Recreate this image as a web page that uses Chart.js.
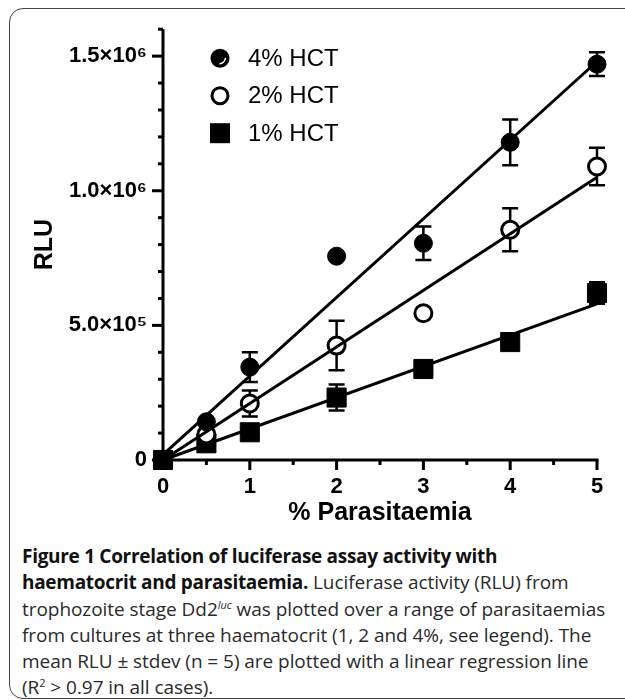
<!DOCTYPE html>
<html>
<head>
<meta charset="utf-8">
<script src="https://cdn.jsdelivr.net/npm/chart.js@4"></script>
<style>
  body { margin: 0; width: 625px; height: 700px; overflow: hidden; background: #fff; position: relative; }
  #frame { position: absolute; left: 9px; top: 8px; width: 700px; height: 691px; box-sizing: border-box;
           border: 1.5px solid #444; border-radius: 14px; }
  #wrap { position: absolute; left: 0; top: 0; }
  #caption { position: absolute; left: 22px; top: 543px; width: 600px; font-family: "Open Sans", sans-serif;
             font-size: 19px; line-height: 26.3px; color: #2a2a2a; white-space: nowrap; letter-spacing: -0.05px; }
  #caption b { font-weight: 700; color: #111; letter-spacing: -0.3px; }
  #caption sup { font-size: 11px; line-height: 0; }
</style>
</head>
<body>
<div id="frame"></div>
<div id="wrap"><canvas id="rluChart" width="625" height="540"></canvas></div>
<div id="caption">
<b>Figure 1 Correlation of luciferase assay activity with</b><br>
<b>haematocrit and parasitaemia.</b> Luciferase activity (RLU) from<br>
trophozoite stage Dd2<sup><i>luc</i></sup> was plotted over a range of parasitaemias<br>
from cultures at three haematocrit (1, 2 and 4%, see legend). The<br>
mean RLU &plusmn; stdev (n = 5) are plotted with a linear regression line<br>
(R<sup>2</sup> &gt; 0.97 in all cases).
</div>
<script>
// values
const parasitaemia = [0, 0.5, 1, 2, 3, 4, 5];
const hct4 = [0, 142000, 345000, 757000, 805000, 1180000, 1470000];
const hct4Err = [0, 0, 55000, 0, 62000, 85000, 44000];
const hct2 = [0, 95000, 210000, 425000, 545000, 855000, 1090000];
const hct2Err = [0, 0, 48000, 92000, 0, 80000, 70000];
const hct1 = [0, 62000, 103000, 232000, 338000, 438000, 620000];
const hct1Err = [0, 0, 0, 48000, 0, 0, 40000];

// regression line endpoints
const fitX = [0, 5];
const fit4 = [20000, 1480000];
const fit2 = [0, 1050000];
const fit1 = [0, 580000];

const seriesLabels = ['4% HCT', '2% HCT', '1% HCT'];
const xTickValues = [0, 1, 2, 3, 4, 5];
const yTickValues = [0, 500000, 1000000, 1500000];
const yTickLabels = ['0', '5.0\u00d710\u2075', '1.0\u00d710\u2076', '1.5\u00d710\u2076'];

const toPoints = (xs, ys) => xs.map((x, i) => ({x: x, y: ys[i]}));

const errorBars = {
    id: 'errorBars',
    beforeDatasetsDraw(chart) {
        const ctx = chart.ctx, xs = chart.scales.x, ys = chart.scales.y;
        ctx.save();
        ctx.strokeStyle = '#000';
        ctx.lineWidth = 2.5;
        chart.data.datasets.forEach(ds => {
            if (!ds.errors) return;
            ds.data.forEach((p, i) => {
                const e = ds.errors[i];
                if (!e) return;
                const px = xs.getPixelForValue(p.x);
                const top = ys.getPixelForValue(p.y + e);
                const bot = ys.getPixelForValue(p.y - e);
                ctx.beginPath();
                ctx.moveTo(px, top); ctx.lineTo(px, bot);
                ctx.moveTo(px - 8, top); ctx.lineTo(px + 8, top);
                ctx.moveTo(px - 8, bot); ctx.lineTo(px + 8, bot);
                ctx.stroke();
            });
        });
        ctx.restore();
    }
};

// axis lines plus major/minor tick marks, taken from the scales
const axesAndTicks = {
    id: 'axesAndTicks',
    afterDraw(chart) {
        const ctx = chart.ctx, xs = chart.scales.x, ys = chart.scales.y, a = chart.chartArea;
        ctx.save();
        ctx.fillStyle = '#000';
        ctx.fillRect(a.left - 1.5, a.top, 3, a.bottom - a.top + 1.5);
        ctx.fillRect(a.left - 1.5, a.bottom - 1.5, a.right - a.left + 3, 3);
        ys.ticks.forEach(t => {
            const py = ys.getPixelForValue(t.value);
            const len = yTickValues.includes(t.value) ? 11 : 5;
            ctx.fillRect(a.left - len, py - 1.5, len, 3);
        });
        xs.ticks.forEach(t => {
            const px = xs.getPixelForValue(t.value);
            const len = Number.isInteger(t.value) ? 10 : 5;
            ctx.fillRect(px - 1.5, a.bottom, 3, len);
        });
        ctx.restore();
    }
};

const innerLegend = {
    id: 'innerLegend',
    afterDraw(chart) {
        const ctx = chart.ctx, a = chart.chartArea;
        const mx = a.left + 57, tx = a.left + 85;
        ctx.save();
        ctx.font = '24px "Liberation Sans", Arial, sans-serif';
        ctx.textBaseline = 'middle';
        chart.data.datasets.filter(ds => ds.errors).forEach((ds, i) => {
            const my = a.top + 29 + i * 37.5;
            ctx.strokeStyle = '#000';
            ctx.fillStyle = '#000';
            if (ds.pointStyle === 'rect') {
                ctx.fillRect(mx - 10, my - 10, 20, 20);
            } else if (ds.pointBackgroundColor === '#fff') {
                ctx.lineWidth = 3;
                ctx.beginPath(); ctx.arc(mx, my, 8, 0, Math.PI * 2); ctx.stroke();
            } else {
                ctx.beginPath(); ctx.arc(mx, my, 9.5, 0, Math.PI * 2); ctx.fill();
                ctx.strokeStyle = '#fff'; ctx.lineWidth = 1.5;
                ctx.beginPath(); ctx.arc(mx - 1, my - 1, 6.5, 0.1, 1.5); ctx.stroke();
            }
            ctx.fillStyle = '#000';
            ctx.fillText(ds.label, tx, my + 1);
        });
        ctx.restore();
    }
};

const lineSet = (ys) => ({
    type: 'line', data: toPoints(fitX, ys), borderColor: '#000', borderWidth: 3,
    pointRadius: 0, fill: false, order: 0, clip: false
});

const data = {
    datasets: [
        {
            label: seriesLabels[0], data: toPoints(parasitaemia, hct4), errors: hct4Err,
            pointStyle: 'circle', pointRadius: 9, pointBackgroundColor: '#000',
            pointBorderColor: '#000', pointBorderWidth: 1, order: 1, clip: false
        },
        {
            label: seriesLabels[1], data: toPoints(parasitaemia, hct2), errors: hct2Err,
            pointStyle: 'circle', pointRadius: 8.5, pointBackgroundColor: '#fff',
            pointBorderColor: '#000', pointBorderWidth: 3, order: 1, clip: false
        },
        {
            label: seriesLabels[2], data: toPoints(parasitaemia, hct1), errors: hct1Err,
            pointStyle: 'rect', pointRadius: 13.5, pointBackgroundColor: '#000',
            pointBorderColor: '#000', pointBorderWidth: 1, order: 1, clip: false
        },
        lineSet(fit4),
        lineSet(fit2),
        lineSet(fit1)
    ]
};

const config = {
    type: 'scatter',
    data: data,
    options: {
        responsive: false,
        animation: false,
        layout: { padding: { left: 30, right: 28, top: 25, bottom: 12 } },
        plugins: {
            legend: { display: false },
            tooltip: { enabled: false }
        },
        scales: {
            x: {
                type: 'linear', min: 0, max: 5,
                grid: { display: true, drawOnChartArea: false, drawTicks: false },
                border: { display: false },
                ticks: {
                    stepSize: 0.5, autoSkip: false, maxRotation: 0, padding: 14, color: '#000',
                    font: { family: '"Liberation Sans", Arial, sans-serif', size: 22, weight: 'bold' },
                    callback: v => xTickValues.includes(v) ? String(v) : ''
                },
                title: {
                    display: true, text: '% Parasitaemia', color: '#000', padding: 0,
                    font: { family: '"Liberation Sans", Arial, sans-serif', size: 25, weight: 'bold' }
                },
                afterFit: s => { s.height = 68; }
            },
            y: {
                type: 'linear', min: 0, max: 1600000,
                grid: { display: true, drawOnChartArea: false, drawTicks: false },
                border: { display: false },
                ticks: {
                    stepSize: 100000, autoSkip: false, padding: 16, color: '#000',
                    font: { family: '"Liberation Sans", Arial, sans-serif', size: 22, weight: 'bold' },
                    callback: v => {
                        const k = yTickValues.indexOf(v);
                        return k >= 0 ? yTickLabels[k] : '';
                    }
                },
                title: {
                    display: true, text: 'RLU', color: '#000', padding: 0,
                    font: { family: '"Liberation Sans", Arial, sans-serif', size: 25, weight: 'bold' }
                },
                afterFit: s => { s.width = 133; }
            }
        }
    },
    plugins: [errorBars, axesAndTicks, innerLegend]
};

const rluChart = new Chart(document.getElementById('rluChart'), config);
</script>
</body>
</html>
